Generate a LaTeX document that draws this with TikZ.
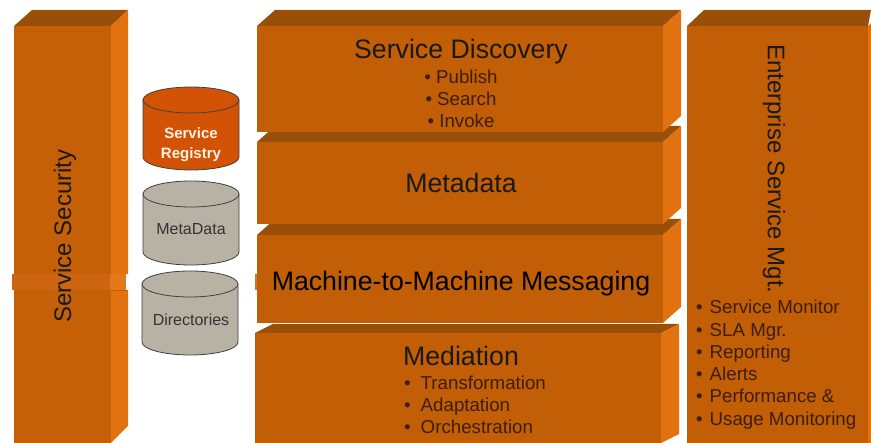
\documentclass[tikz,border=0pt]{standalone}
\usepackage{xcolor}
\usepackage{fontspec}
\setmainfont{Liberation Sans}
\usepackage{tikz}
\usetikzlibrary{positioning}

\definecolor{frontorange}{HTML}{C25E05}
\definecolor{toporange}{HTML}{9A4F08}
\definecolor{sideorange}{HTML}{E2720F}
\definecolor{seamorange}{HTML}{CC6410}
\definecolor{regorange}{HTML}{D25306}
\definecolor{cylgray}{HTML}{B8B2A5}
\definecolor{listbrown}{HTML}{3C1E05}

\tikzset{
    bigtext/.style={font=\fontsize{26.7}{30}\selectfont, text=black!90},
    sidetext/.style={font=\fontsize{24}{28}\selectfont, text=black!90},
    listtext/.style={font=\fontsize{18.7}{22.3}\selectfont, text=listbrown, align=left, inner sep=0pt},
    listmid/.style={font=\fontsize{18.7}{22}\selectfont, text=listbrown, align=center, inner sep=0pt},
    cyltext/.style={font=\fontsize{16}{20}\selectfont, align=center, inner sep=0pt},
    cylrim/.style={draw=black!75, thick},
}

% left, right, top of the front face, bottom of the front face, depth of the top face
\newcommand{\slab}[5]{
    \fill[frontorange] (#1,#3) rectangle (#2,#4);
    \fill[toporange] (#1,#3) -- ++(18,-#5) -- ++(#2-#1,0) -- (#2,#3) -- cycle;
    \fill[sideorange] (#2,#3) -- ++(18,-#5) -- ++(0,#4-#3) -- (#2,#4) -- cycle;
}
% left, right, top of the lid, bottom of the body, fill colour
\newcommand{\drum}[5]{
    \draw[cylrim, fill=#5] (#1,#3+13) -- (#1,#4-13) arc[start angle=180, end angle=0, x radius=(#2-#1)/2, y radius=13]
        -- (#2,#3+13) -- cycle;
    \draw[cylrim, fill=#5] ({(#1+#2)/2},#3+13) ellipse[x radius=(#2-#1)/2, y radius=13];
}

\begin{document}
\begin{tikzpicture}[x=1pt, y=-1pt]
    \useasboundingbox (0,0) rectangle (871,443);

    % the three tall and stacked blocks
    \fill[frontorange!92!sideorange] (14,26) rectangle (111,443);
    \fill[toporange] (14,26) -- (32,10) -- (128,10) -- (111,26) -- cycle;
    \fill[sideorange] (111,26) -- (128,10) -- (128,426) -- (111,443) -- cycle;

    \slab{255}{661}{333}{443}{9}
    \slab{257}{663}{235}{323}{16}
    \slab{257}{663}{142}{224}{16}
    \slab{257}{663}{26}{132}{16}

    \fill[frontorange] (687,26) rectangle (868,443);
    \fill[toporange] (687,26) -- (704,10) -- (871,10) -- (868,26) -- cycle;
    \fill[sideorange] (868,26) -- (871,23) -- (871,443) -- (868,443) -- cycle;

    % seam across the picture
    \fill[seamorange] (12,274) rectangle (110,290);
    \fill[sideorange!95!white] (110,274) rectangle (126,290);
    \fill[white] (126,274) rectangle (129,290);
    \fill[frontorange!85!white] (255,274) rectangle (257,290);
    \draw[frontorange!85!gray, very thin] (14,290) -- (128,290);
    \draw[frontorange!92!gray, very thin] (687,290) -- (868,290);

    % drums
    \drum{143}{239}{87}{170}{regorange}
    \drum{143}{239}{181}{265}{cylgray}
    \drum{142}{238}{271}{355}{cylgray}

    \node[cyltext, font=\fontsize{15}{20}\selectfont\bfseries, text=white!90!orange] (registry) at (191,145) {Service\\Registry};
    \node[cyltext, font=\fontsize{16}{20}\selectfont, text=black!80] (metadrum) at (191,229) {MetaData};
    \node[cyltext, text=black!80] (directories) at (191,320) {Directories};

    % block labels
    \node[sidetext, rotate=90] (security) at (65,236) {Service Security};
    \node[sidetext, rotate=-90] (management) at (774,169) {Enterprise Service Mgt.};

    \node[bigtext] (discovery) at (461,52) {Service Discovery};
    \node[listmid, below=2pt of discovery] (discoverylist) {• Publish\\• Search\\• Invoke};
    \node[bigtext] (metadata) at (461,183) {Metadata};
    \node[bigtext, text=black] (messaging) at (461,284) {Machine-to-Machine Messaging};
    \node[bigtext] (mediation) at (461,356) {Mediation};
    \node[listtext, anchor=north west] (mediationlist) at (404,375.5) {•\hspace{10pt}Transformation\\•\hspace{10pt}Adaptation\\•\hspace{10pt}Orchestration};
    \node[listtext, anchor=north west] (managementlist) at (696,300) {•\hspace{7pt}Service Monitor\\•\hspace{7pt}SLA Mgr.\\•\hspace{7pt}Reporting\\•\hspace{7pt}Alerts\\•\hspace{7pt}Performance \&\\•\hspace{7pt}Usage Monitoring};
\end{tikzpicture}
\end{document}
